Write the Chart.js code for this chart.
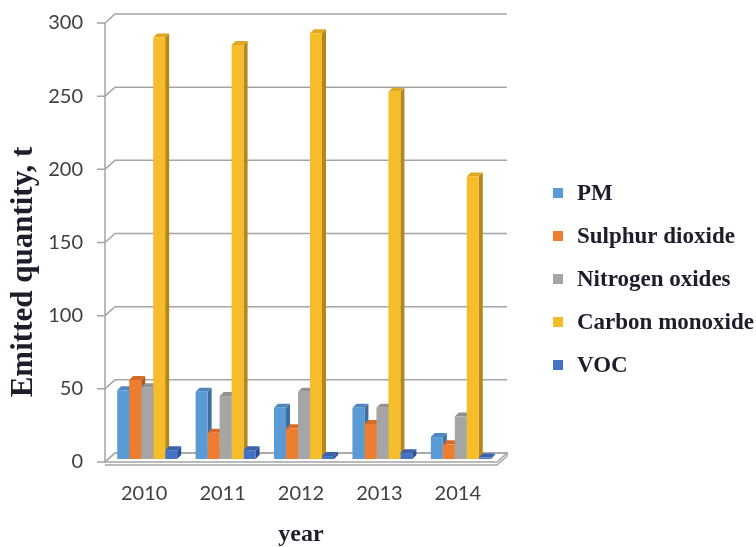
<!DOCTYPE html>
<html>
<head>
<meta charset="utf-8">
<script src="https://cdn.jsdelivr.net/npm/chart.js@4/dist/chart.umd.min.js"></script>
<style>
  html, body { margin: 0; padding: 0; background: #ffffff; }
  #c { display: block; }
</style>
</head>
<body>
<canvas id="c" width="756" height="547"></canvas>
<script>
// Annual emissions by pollutant, tonnes
const years = ['2010', '2011', '2012', '2013', '2014'];
const pm = [47, 46, 35, 35, 15];
const sulphurDioxide = [54, 18, 21, 24, 10];
const nitrogenOxides = [49, 43, 46, 35, 29];
const carbonMonoxide = [288, 283, 291, 251, 193];
const voc = [6, 6, 2, 4, 1];
const yTickValues = [0, 50, 100, 150, 200, 250, 300];

const seriesNames = ['PM', 'Sulphur dioxide', 'Nitrogen oxides', 'Carbon monoxide', 'VOC'];
const seriesValues = [pm, sulphurDioxide, nitrogenOxides, carbonMonoxide, voc];
const yAxisTitle = 'Emitted quantity, t';
// front / side / top shades of each column
const palette = [
  ['#5B9BD5', '#3E6F9E', '#4F88BE'],
  ['#ED7D31', '#B15A1F', '#D46C28'],
  ['#A5A5A5', '#777777', '#929292'],
  ['#F5BD2A', '#B48718', '#DDA823'],
  ['#4472C4', '#2C4F8E', '#3B63AD']
];

const WALL_DX = 10, WALL_DY = -9;   // depth of the chart box
const BAR_SHIFT_X = 3, BAR_SHIFT_Y = -3; // columns stand mid-depth
const BAR_DEPTH = 4;
const GRID_COLOR = '#a5a5a5';
const TITLE_COLOR = '#1d1d2b';
const serif = '"Liberation Serif", "Times New Roman", serif';

// Walls, gridlines and floor of the 3-D box
const boxPlugin = {
  id: 'box3d',
  beforeDatasetsDraw(chart) {
    const { ctx, chartArea: a } = chart;
    const ys = chart.scales.y;
    ctx.save();
    ctx.strokeStyle = GRID_COLOR;
    ctx.lineWidth = 1.5;
    // floor slab
    const b = ys.getPixelForValue(0);
    ctx.fillStyle = '#ffffff';
    ctx.beginPath();
    ctx.moveTo(a.left, b);
    ctx.lineTo(a.right, b);
    ctx.lineTo(a.right + WALL_DX, b + WALL_DY);
    ctx.lineTo(a.left + WALL_DX, b + WALL_DY);
    ctx.closePath();
    ctx.fill();
    ctx.stroke();
    ctx.beginPath();
    ctx.moveTo(a.left, b + 3);
    ctx.lineTo(a.right, b + 3);
    ctx.lineTo(a.right + WALL_DX, b + WALL_DY + 3);
    ctx.lineTo(a.right + WALL_DX, b + WALL_DY);
    ctx.stroke();
    // gridlines on side and back walls
    yTickValues.forEach(v => {
      const y = ys.getPixelForValue(v);
      ctx.beginPath();
      ctx.moveTo(a.left - 8, y);
      ctx.lineTo(a.left, y);
      ctx.lineTo(a.left + WALL_DX, y + WALL_DY);
      ctx.lineTo(a.right + WALL_DX, y + WALL_DY);
      ctx.stroke();
    });
    // vertical axis line
    ctx.beginPath();
    ctx.moveTo(a.left, ys.getPixelForValue(300));
    ctx.lineTo(a.left, b);
    ctx.stroke();
    ctx.restore();
  }
};

// Columns with side and top faces
const columnPlugin = {
  id: 'columns3d',
  beforeDatasetsDraw(chart) {
    const { ctx } = chart;
    ctx.save();
    ctx.translate(BAR_SHIFT_X, BAR_SHIFT_Y);
    chart.data.datasets.forEach((ds, di) => {
      const meta = chart.getDatasetMeta(di);
      const [, side, top] = palette[di];
      meta.data.forEach(el => {
        const { x, y, base, width } = el.getProps(['x', 'y', 'base', 'width'], true);
        const l = x - width / 2, r = x + width / 2;
        ctx.fillStyle = side;
        ctx.beginPath();
        ctx.moveTo(r, y);
        ctx.lineTo(r + BAR_DEPTH, y - BAR_DEPTH);
        ctx.lineTo(r + BAR_DEPTH, base - BAR_DEPTH);
        ctx.lineTo(r, base);
        ctx.closePath();
        ctx.fill();
        ctx.fillStyle = top;
        ctx.beginPath();
        ctx.moveTo(l, y);
        ctx.lineTo(l + BAR_DEPTH, y - BAR_DEPTH);
        ctx.lineTo(r + BAR_DEPTH, y - BAR_DEPTH);
        ctx.lineTo(r, y);
        ctx.closePath();
        ctx.fill();
      });
    });
  },
  afterDatasetsDraw(chart) {
    chart.ctx.restore();
  }
};

// Vertical axis title and legend column on the right
const textPlugin = {
  id: 'sideTexts',
  afterDraw(chart) {
    const { ctx } = chart;
    ctx.save();
    ctx.fillStyle = TITLE_COLOR;
    ctx.font = 'bold 31px ' + serif;
    ctx.translate(32, 272);
    ctx.rotate(-Math.PI / 2);
    ctx.textAlign = 'center';
    ctx.textBaseline = 'alphabetic';
    ctx.fillText(yAxisTitle, 0, 0);
    ctx.restore();

    const x0 = 553, y0 = 193, step = 43, box = 10;
    ctx.save();
    ctx.font = 'bold 23px ' + serif;
    ctx.textBaseline = 'middle';
    chart.data.datasets.forEach((ds, i) => {
      const y = y0 + i * step;
      ctx.fillStyle = ds.backgroundColor;
      ctx.fillRect(x0, y - box / 2, box, box);
      ctx.fillStyle = TITLE_COLOR;
      ctx.fillText(ds.label, x0 + 24, y + 1);
    });
    ctx.restore();
  }
};

new Chart(document.getElementById('c'), {
  type: 'bar',
  data: {
    labels: years,
    datasets: seriesNames.map((name, i) => ({
      label: name,
      data: seriesValues[i],
      backgroundColor: palette[i][0],
      borderWidth: 0,
      categoryPercentage: 0.765,
      barPercentage: 1
    }))
  },
  options: {
    responsive: false,
    devicePixelRatio: 1,
    animation: false,
    layout: { padding: { top: 23, right: 259, bottom: 0, left: 0 } },
    plugins: { legend: { display: false }, tooltip: { enabled: false } },
    scales: {
      x: {
        grid: { display: false, drawTicks: false },
        border: { display: false },
        ticks: { padding: 20, color: '#404040', font: { family: 'Lato', size: 20 } },
        title: {
          display: true, text: 'year', color: TITLE_COLOR,
          font: { family: serif, size: 24, weight: 'bold', lineHeight: 1 },
          padding: { top: 0, bottom: 0 }
        },
        afterFit: s => { s.height = 85; }
      },
      y: {
        min: 0, max: 300,
        grid: { display: false, drawTicks: false },
        border: { display: false },
        ticks: {
          stepSize: 50, padding: 22, color: '#404040',
          font: { family: 'Lato', size: 20 }
        },
        afterFit: s => {
          s.width = 105;
          s.paddingTop = 12;
          s.paddingBottom = 12;
        }
      }
    }
  },
  plugins: [boxPlugin, columnPlugin, textPlugin]
});
</script>
</body>
</html>
